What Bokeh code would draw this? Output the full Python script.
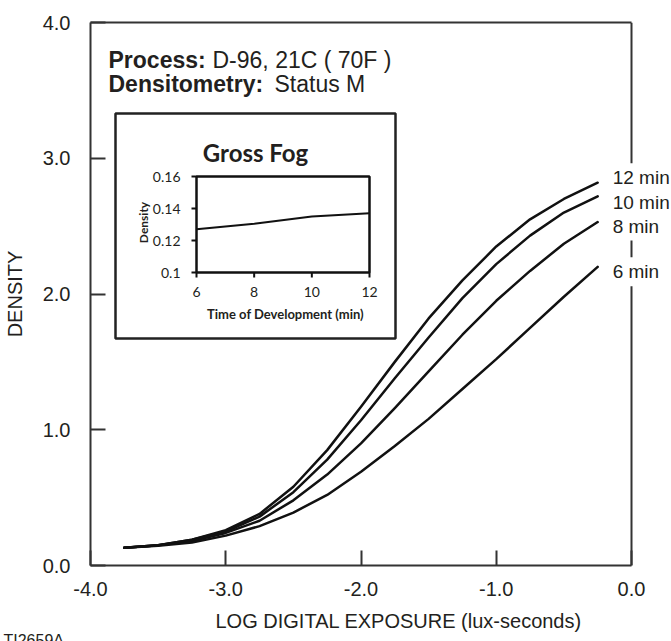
import math
from bokeh.plotting import figure
from bokeh.models import (Range1d, FixedTicker, PrintfTickFormatter, Span, Label, BoxAnnotation,
                          LinearAxis, Title)
from bokeh.core.properties import value
from bokeh.embed import file_html
from bokeh.resources import INLINE

# ---------------- data ----------------
exposure = [-3.75, -3.5, -3.25, -3.0, -2.75, -2.5, -2.25, -2.0, -1.75, -1.5, -1.25, -1.0, -0.75, -0.5, -0.25]
density_12 = [0.13, 0.15, 0.19, 0.26, 0.38, 0.58, 0.85, 1.17, 1.50, 1.82, 2.10, 2.35, 2.55, 2.70, 2.82]
density_10 = [0.13, 0.15, 0.19, 0.25, 0.36, 0.54, 0.78, 1.07, 1.38, 1.68, 1.97, 2.22, 2.43, 2.60, 2.72]
density_8 = [0.13, 0.15, 0.18, 0.24, 0.33, 0.48, 0.67, 0.90, 1.16, 1.43, 1.70, 1.95, 2.17, 2.37, 2.53]
density_6 = [0.13, 0.145, 0.17, 0.22, 0.29, 0.39, 0.52, 0.69, 0.88, 1.08, 1.30, 1.52, 1.75, 1.98, 2.20]
curve_labels = ["12 min", "10 min", "8 min", "6 min"]
x_ticks = [-4.0, -3.0, -2.0, -1.0, 0.0]
y_ticks = [0.0, 1.0, 2.0, 3.0, 4.0]

dev_time = [6, 8, 10, 12]
fog_density = [0.127, 0.1305, 0.135, 0.137]
inset_x_ticks = [6, 8, 10, 12]
inset_x_tick_labels = ["6", "8", "10", "12"]
inset_y_ticks = [0.10, 0.12, 0.14, 0.16]
inset_y_tick_labels = ["0.1", "0.12", "0.14", "0.16"]

# ---------------- layout constants (screen px) ----------------
W, H = 671, 641
FL, FR, FT, FB = 90, 631, 22, 565     # main axes box
IL, IR, IT, IB = 196, 369, 176, 272   # inset plotting frame

XMIN, XMAX = x_ticks[0], x_ticks[-1]
YMIN, YMAX = y_ticks[0], y_ticks[-1]
XS = (XMAX - XMIN) / (FR - FL)
YS = (YMAX - YMIN) / (FB - FT)


def mx(px):
    return XMIN + (px - FL) * XS


def my(py):
    return YMIN + (FB - py) * YS


ix0, ix1 = inset_x_ticks[0], inset_x_ticks[-1]
iy0, iy1 = inset_y_ticks[0], inset_y_ticks[-1]
isx = (ix1 - ix0) / (IR - IL)
isy = (iy1 - iy0) / (IB - IT)
inset_xr = Range1d(ix0 - (IL - FL) * isx, ix1 + (W - IR) * isx)
inset_yr = Range1d(iy0 - (FB - IB) * isy, iy1 + (IT - FT) * isy)

TXT = "#231f20"
LINE = "#333333"
FONT = "Liberation Sans"
IFONT = "Lato"

p = figure(width=W, height=H, x_range=Range1d(XMIN, XMAX + (W - FR) * XS), y_range=Range1d(YMIN, YMAX),
           output_backend="svg", toolbar_location=None,
           min_border_left=FL, min_border_right=0, min_border_top=FT, min_border_bottom=H - FB)
p.extra_x_ranges = {"inset": inset_xr}
p.extra_y_ranges = {"inset": inset_yr}
p.grid.visible = False
p.outline_line_color = None
p.background_fill_color = "white"
p.border_fill_color = "white"

for ax, ticks in ((p.xaxis, x_ticks), (p.yaxis, y_ticks)):
    ax.ticker = FixedTicker(ticks=ticks)
    ax.formatter = PrintfTickFormatter(format="%.1f")
    ax.major_tick_in = 15
    ax.major_tick_out = 0
    ax.minor_tick_line_color = None
    ax.axis_line_width = 2
    ax.axis_line_color = LINE
    ax.major_tick_line_width = 2
    ax.major_tick_line_color = LINE
    ax.major_label_text_font = FONT
    ax.major_label_text_font_size = "20px"
    ax.major_label_text_color = TXT
    ax.major_label_standoff = 20

p.xaxis.bounds = (XMIN, XMAX)
p.xaxis.major_label_standoff = 16
p.yaxis.axis_label = "DENSITY"
p.yaxis.axis_label_text_font = FONT
p.yaxis.axis_label_text_font_size = "20px"
p.yaxis.axis_label_text_font_style = "normal"
p.yaxis.axis_label_text_color = TXT
p.yaxis.axis_label_standoff = 14

# top frame line (axis without ticks/labels) and right frame line
top = LinearAxis(bounds=(XMIN, XMAX), ticker=FixedTicker(ticks=[]), axis_line_width=2, axis_line_color=LINE,
                 major_tick_line_color=None, minor_tick_line_color=None,
                 major_label_text_font_size="0px", major_label_standoff=0)
p.add_layout(top, "above")
p.add_layout(Span(location=XMAX, dimension="height", line_color=LINE, line_width=2, level="underlay"))

# x axis title and figure code
p.add_layout(Title(text="LOG DIGITAL EXPOSURE (lux-seconds)", align="left", offset=125,
                   text_font=FONT, text_font_size="20px", text_font_style="normal", text_color=TXT,
                   standoff=19), "below")
p.add_layout(Title(text="TI2659A", align="left", offset=3 - FL, vertical_align="top",
                   text_font=FONT, text_font_size="16px", text_font_style="normal", text_color=TXT,
                   standoff=-20), "below")

# curves
curves = [density_12, density_10, density_8, density_6]
label_dy = [5, -6, -4, -5]
for curve, lab, dy in zip(curves, curve_labels, label_dy):
    p.line(exposure, curve, line_color="#111111", line_width=2.5, line_join="round", line_cap="round")
    p.add_layout(Label(x=exposure[-1], y=curve[-1], x_offset=11, y_offset=dy, text=lab,
                       text_font=FONT, text_font_size="19px", text_color=TXT,
                       text_baseline="middle", text_align="left",
                       background_fill_color="white", padding=4, level="overlay"))

# header text
hdr = dict(text_font=FONT, text_font_size="23px", text_color=TXT, text_baseline="alphabetic", text_align="left")
p.add_layout(Label(x=mx(108), y=my(59), text="Process:", text_font_style="bold", **hdr))
p.add_layout(Label(x=mx(212), y=my(59), text="D-96, 21C ( 70F )", **hdr))
p.add_layout(Label(x=mx(108), y=my(83), text="Densitometry:", text_font_style="bold", **hdr))
p.add_layout(Label(x=mx(274), y=my(83), text="Status M", **hdr))

# ---------------- inset ----------------
p.add_layout(BoxAnnotation(left=mx(115), right=mx(395), top=my(113), bottom=my(338),
                           fill_color="white", fill_alpha=1.0, line_color="#222222", line_alpha=1.0,
                           line_width=2.5, level="underlay"))
p.add_layout(BoxAnnotation(left=ix0, right=ix1, bottom=iy0, top=iy1,
                           x_range_name="inset", y_range_name="inset",
                           fill_alpha=0, line_color="#111111", line_alpha=1.0, line_width=2.5))
p.line(dev_time, fog_density, x_range_name="inset", y_range_name="inset",
       line_color="#111111", line_width=2)

p.segment(x0=inset_x_ticks, y0=[iy0] * 4, x1=inset_x_ticks, y1=[iy0 - 5 * isy] * 4,
          x_range_name="inset", y_range_name="inset", line_color="#111111", line_width=2)
p.segment(x0=[ix0] * 4, y0=inset_y_ticks, x1=[ix0 - 5 * isx] * 4, y1=inset_y_ticks,
          x_range_name="inset", y_range_name="inset", line_color="#111111", line_width=2)

p.text(x=inset_x_ticks, y=[iy0 - 19 * isy] * 4, text=inset_x_tick_labels,
       x_range_name="inset", y_range_name="inset", text_font=value(IFONT), text_font_size="14px",
       text_color=TXT, text_align="center", text_baseline="middle")
p.text(x=[ix0 - 16 * isx] * 4, y=inset_y_ticks, text=inset_y_tick_labels,
       x_range_name="inset", y_range_name="inset", text_font=value(IFONT), text_font_size="14px",
       text_color=TXT, text_align="right", text_baseline="middle")

p.add_layout(Label(x=mx(255), y=my(152), text="Gross Fog", text_font=IFONT, text_font_size="24px",
                   text_font_style="bold", text_color=TXT, text_align="center", text_baseline="alphabetic"))
p.add_layout(Label(x=mx(143), y=my(222), text="Density", text_font=IFONT, text_font_size="12px",
                   text_font_style="bold", text_color=TXT, text_align="center", text_baseline="middle",
                   angle=math.pi / 2))
p.add_layout(Label(x=mx(285), y=my(313), text="Time of Development (min)", text_font=IFONT,
                   text_font_size="13px", text_font_style="bold", text_color=TXT,
                   text_align="center", text_baseline="middle"))

open("out.html", "w").write(file_html(p, INLINE))
